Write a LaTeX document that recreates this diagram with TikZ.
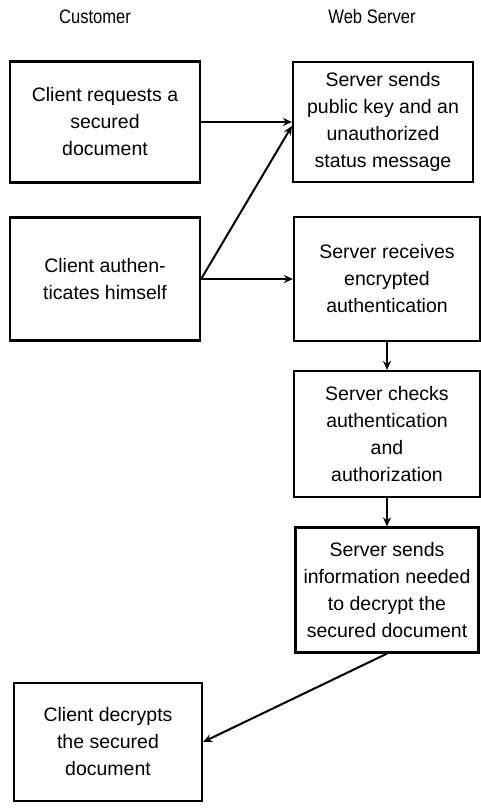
\documentclass[tikz,border=0pt]{standalone}
\usepackage{fontspec}
\setmainfont{Liberation Sans}
\newfontfamily\headfont[FakeStretch=0.85]{Liberation Sans}
\usepackage{tikz}
\usetikzlibrary{arrows.meta, positioning}

\begin{document}
\begin{tikzpicture}[x=1pt, y=-1pt,
    stepbox/.style={draw, line width=2.2pt, align=center,
      font=\fontsize{19.5}{27}\selectfont},
    head/.style={font=\headfont\fontsize{19.5}{22}\selectfont},
    flow/.style={-{Stealth[length=9pt, width=8pt]}, line width=2pt}]
  \useasboundingbox (0,0) rectangle (481,808);

  % Titres des colonnes
  \node[head] (cust) at (95,17) {Customer};
  \node[head] (web) at (372,17) {Web Server};

  % Colonne client
  \node[stepbox, minimum width=190pt, minimum height=121pt] (req) at (105,122)
    {Client requests a\\secured\\document};
  \node[stepbox, minimum width=190pt, minimum height=123pt] (auth) at (105,279)
    {Client authen-\\ticates himself};
  \node[stepbox, minimum width=188pt, minimum height=118pt] (decr) at (108,742)
    {Client decrypts\\the secured\\document};

  % Colonne serveur
  \node[stepbox, minimum width=180pt, minimum height=120pt] (pubkey) at (383,122)
    {Server sends\\public key and an\\unauthorized\\status message};
  \node[stepbox, minimum width=186pt, minimum height=124pt] (recv) at (387,279)
    {Server receives\\encrypted\\authentication};
  \node[stepbox, minimum width=186pt, minimum height=126pt] (check) at (387,434)
    {Server checks\\authentication\\and\\authorization};
  \node[stepbox, minimum width=183pt, minimum height=125pt] (info) at (387,590)
    {Server sends\\information needed\\to decrypt the\\secured document};

  % Fleches
  \draw[flow] (req.east) -- (pubkey.west);
  \draw[flow] (auth.east) -- ([yshift=-4pt]pubkey.west);
  \draw[flow] (auth.east) -- (recv.west);
  \draw[flow] (recv.south) -- (check.north);
  \draw[flow] (check.south) -- (info.north);
  \draw[flow] (info.south) -- (decr.east);
\end{tikzpicture}
\end{document}
